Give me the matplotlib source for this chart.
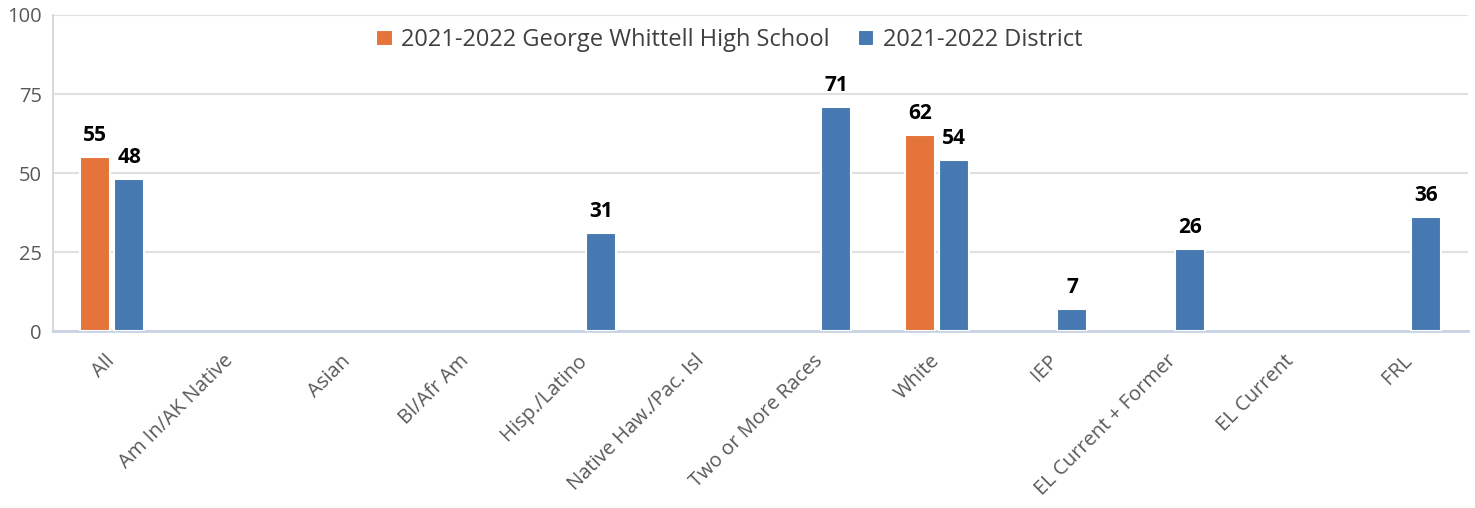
import numpy as np
import matplotlib.pyplot as plt
from matplotlib.transforms import ScaledTranslation

plt.rcParams['font.family'] = ['Open Sans', 'DejaVu Sans']

categories = ["All", "Am In/AK Native", "Asian", "Bl/Afr Am", "Hisp./Latino",
              "Native Haw./Pac. Isl", "Two or More Races", "White", "IEP",
              "EL Current + Former", "EL Current", "FRL"]
school = [55, None, None, None, None, None, None, 62, None, None, None, None]
district = [48, None, None, None, 31, None, 71, 54, 7, 26, None, 36]
series_names = ["2021-2022 George Whittell High School", "2021-2022 District"]
colors = ["#E5743A", "#4679B1"]

fig = plt.figure(figsize=(14.75, 5.08), dpi=100)
ax = fig.add_axes([0.036, 0.348, 0.959, 0.6225])

x = np.arange(len(categories))
w = 0.255
off = 0.145

for vals, sign, name, c in [(school, -1, series_names[0], colors[0]),
                            (district, 1, series_names[1], colors[1])]:
    xs = [xi + sign * off for xi, v in zip(x, vals) if v is not None]
    ys = [v for v in vals if v is not None]
    bars = ax.bar(xs, ys, width=w, color=c, edgecolor="white", linewidth=1.5,
                  label=name, zorder=3)
    for b, v in zip(bars, ys):
        ax.text(b.get_x() + b.get_width() / 2, v + 3.5, str(v), ha="center",
                va="bottom", fontsize=15, fontweight="bold", color="black")

ax.set_ylim(0, 100)
ax.set_xlim(-0.5, len(categories) - 0.5)
ax.set_yticks([0, 25, 50, 75, 100])
ax.yaxis.grid(True, color="#E0E0E0", linewidth=1.5, zorder=0)
ax.set_axisbelow(True)
ax.tick_params(axis="y", length=0, labelsize=14.5, labelcolor="#595959", pad=8)
ax.tick_params(axis="x", length=0, labelsize=14.5, labelcolor="#595959", pad=10)
ax.set_xticks(x)
ax.set_xticklabels(categories, rotation=45, ha="right", rotation_mode="anchor")
# nudge the rotated labels a bit, like the original
shift = ScaledTranslation(-0.07, -0.06, fig.dpi_scale_trans)
for lab in ax.get_xticklabels():
    lab.set_transform(lab.get_transform() + shift)

for s in ["top", "right"]:
    ax.spines[s].set_visible(False)
ax.spines["left"].set_color("#D9D9D9")
ax.spines["left"].set_linewidth(1.5)
ax.spines["bottom"].set_color("#C9D3E3")
ax.spines["bottom"].set_linewidth(2)

ax.legend(loc="upper center", bbox_to_anchor=(0.478, 1.025), ncol=2, frameon=False,
          fontsize=17, handlelength=0.7, handleheight=0.7, handletextpad=0.35,
          columnspacing=1.2, labelcolor="#404040")

fig.savefig("out.png", dpi=100)
